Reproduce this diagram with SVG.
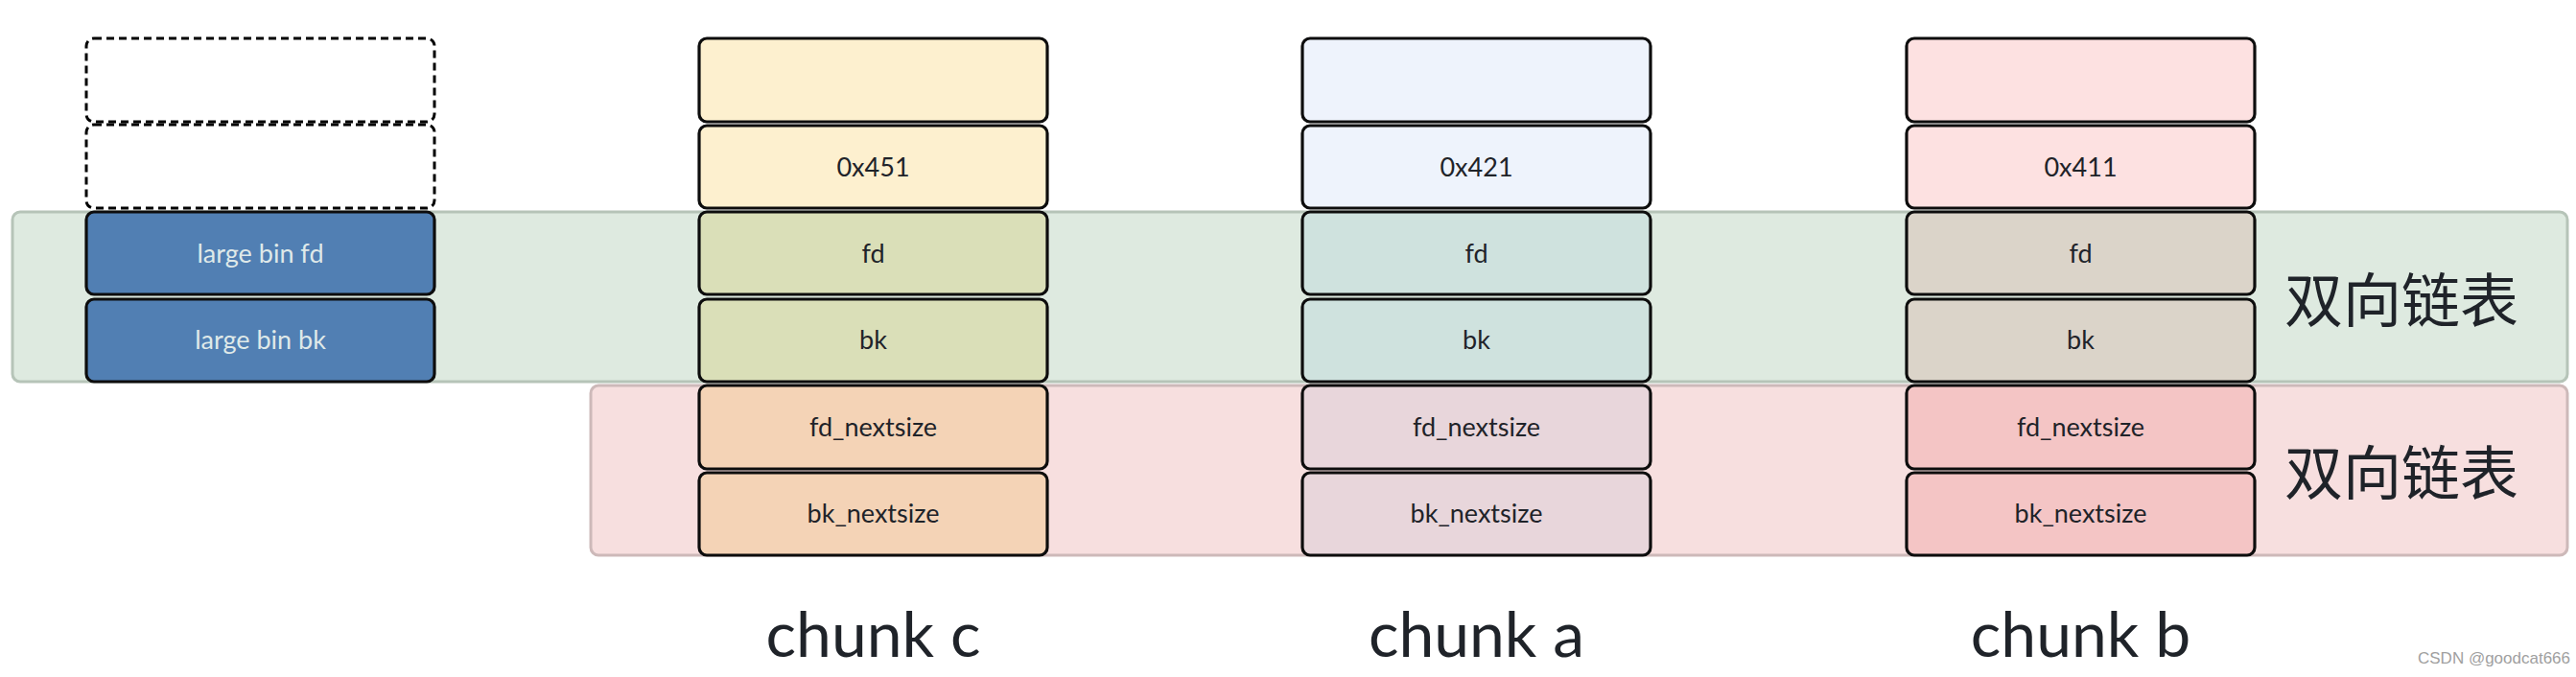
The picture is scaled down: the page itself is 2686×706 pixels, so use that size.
<svg xmlns="http://www.w3.org/2000/svg" width="2686" height="706" viewBox="0 0 2686 706">
<style>
.band{stroke-width:3}
.box{stroke:#0d0d0d;stroke-width:3.2}
.dash{fill:#fff;stroke:#000;stroke-width:3;stroke-dasharray:8 5}
.t{font-family:Lato,"Noto Sans",sans-serif;font-size:27px;fill:#1f2329;text-anchor:middle}
.tw{fill:#dfe9e9}
.big{font-family:Lato,"Noto Sans",sans-serif;font-size:66px;fill:#1f2329;text-anchor:middle}
.cjk{font-family:"Noto Sans CJK SC",sans-serif;font-size:61px;fill:#1f2329}
.wm{font-family:"Liberation Sans",sans-serif;font-size:17px;fill:#a0a0a0;text-anchor:end}
</style>
<rect width="2686" height="706" fill="#fff"/>
<g id="bands">
<rect class="band" x="13" y="221" width="2664" height="177" rx="8" fill="#deeae0" stroke="#b6c4b8"/>
<rect class="band" x="616" y="402" width="2061" height="177" rx="8" fill="#f7dfdf" stroke="#cdb9b9"/>
</g>
<g id="largebin">
<rect class="dash" x="90" y="40" width="363" height="87" rx="8"/>
<rect class="dash" x="90" y="130" width="363" height="87" rx="8"/>
<rect class="box" x="90" y="221" width="363" height="86" rx="8" fill="#517fb3" stroke="#13201a"/>
<text class="t tw" x="271.5" y="273.5">large bin fd</text>
<rect class="box" x="90" y="312" width="363" height="86" rx="8" fill="#517fb3" stroke="#13201a"/>
<text class="t tw" x="271.5" y="364">large bin bk</text>
</g>
<g id="chunk_c">
<rect class="box" x="729" y="40" width="363" height="87" rx="8" fill="#fdf0cf"/>
<rect class="box" x="729" y="131" width="363" height="86" rx="8" fill="#fdf0cf"/>
<text class="t" x="910.5" y="183.5">0x451</text>
<rect class="box" x="729" y="221" width="363" height="86" rx="8" fill="#dadfb8" stroke="#13201a"/>
<text class="t" x="910.5" y="273.5">fd</text>
<rect class="box" x="729" y="312" width="363" height="86" rx="8" fill="#dadfb8" stroke="#13201a"/>
<text class="t" x="910.5" y="364">bk</text>
<rect class="box" x="729" y="402" width="363" height="87" rx="8" fill="#f4d3b6" stroke="#2a1512"/>
<text class="t" x="910.5" y="454.5">fd_nextsize</text>
<rect class="box" x="729" y="493" width="363" height="86" rx="8" fill="#f4d3b6" stroke="#2a1512"/>
<text class="t" x="910.5" y="545">bk_nextsize</text>
<text class="big" x="910.5" y="685">chunk c</text>
</g>
<g id="chunk_a">
<rect class="box" x="1358" y="40" width="363" height="87" rx="8" fill="#eef3fc"/>
<rect class="box" x="1358" y="131" width="363" height="86" rx="8" fill="#eef3fc"/>
<text class="t" x="1539.5" y="183.5">0x421</text>
<rect class="box" x="1358" y="221" width="363" height="86" rx="8" fill="#cfe2de" stroke="#13201a"/>
<text class="t" x="1539.5" y="273.5">fd</text>
<rect class="box" x="1358" y="312" width="363" height="86" rx="8" fill="#cfe2de" stroke="#13201a"/>
<text class="t" x="1539.5" y="364">bk</text>
<rect class="box" x="1358" y="402" width="363" height="87" rx="8" fill="#e8d6db" stroke="#2a1512"/>
<text class="t" x="1539.5" y="454.5">fd_nextsize</text>
<rect class="box" x="1358" y="493" width="363" height="86" rx="8" fill="#e8d6db" stroke="#2a1512"/>
<text class="t" x="1539.5" y="545">bk_nextsize</text>
<text class="big" x="1539.5" y="685">chunk a</text>
</g>
<g id="chunk_b">
<rect class="box" x="1988" y="40" width="363" height="87" rx="8" fill="#fde1e1"/>
<rect class="box" x="1988" y="131" width="363" height="86" rx="8" fill="#fde1e1"/>
<text class="t" x="2169.5" y="183.5">0x411</text>
<rect class="box" x="1988" y="221" width="363" height="86" rx="8" fill="#dbd4c9" stroke="#13201a"/>
<text class="t" x="2169.5" y="273.5">fd</text>
<rect class="box" x="1988" y="312" width="363" height="86" rx="8" fill="#dbd4c9" stroke="#13201a"/>
<text class="t" x="2169.5" y="364">bk</text>
<rect class="box" x="1988" y="402" width="363" height="87" rx="8" fill="#f4c5c5" stroke="#2a1512"/>
<text class="t" x="2169.5" y="454.5">fd_nextsize</text>
<rect class="box" x="1988" y="493" width="363" height="86" rx="8" fill="#f4c5c5" stroke="#2a1512"/>
<text class="t" x="2169.5" y="545">bk_nextsize</text>
<text class="big" x="2169.5" y="685">chunk b</text>
</g>
<g id="labels">
<text class="cjk" x="2382" y="336">双向链表</text>
<text class="cjk" x="2382" y="516">双向链表</text>
<text class="wm" x="2680" y="692">CSDN @goodcat666</text>
</g>
<g id="connectors"></g>
</svg>
